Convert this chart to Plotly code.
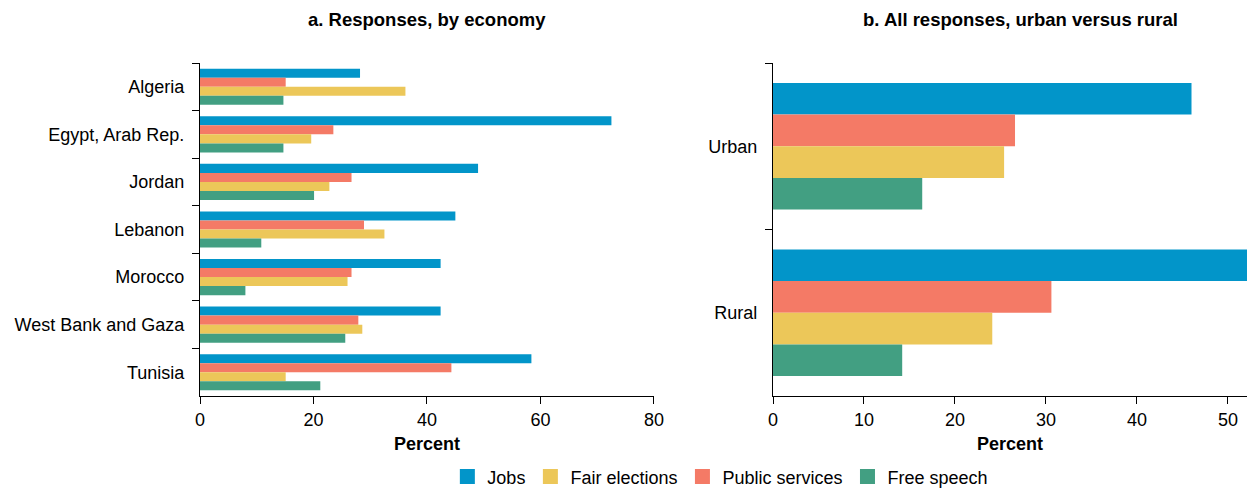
import plotly.graph_objects as go

economies = ["Algeria", "Egypt, Arab Rep.", "Jordan", "Lebanon", "Morocco", "West Bank and Gaza", "Tunisia"]
jobs = [28.2, 72.5, 49.0, 45.0, 42.4, 42.4, 58.4]
public_services = [15.1, 23.5, 26.7, 28.9, 26.7, 27.9, 44.3]
fair_elections = [36.2, 19.6, 22.8, 32.5, 26.0, 28.6, 15.1]
free_speech = [14.7, 14.7, 20.1, 10.8, 8.0, 25.6, 21.2]

areas = ["Urban", "Rural"]
area_jobs = [46.0, 52.6]
area_public = [26.6, 30.6]
area_fair = [25.4, 24.1]
area_free = [16.4, 14.2]

colors = {"Jobs": "#0295C9", "Fair elections": "#ECC759",
          "Public services": "#F47A66", "Free speech": "#429F82"}
legend_order = ["Jobs", "Fair elections", "Public services", "Free speech"]

fig = go.Figure()
series_a = [("Jobs", jobs), ("Public services", public_services),
            ("Fair elections", fair_elections), ("Free speech", free_speech)]
series_b = [("Jobs", area_jobs), ("Public services", area_public),
            ("Fair elections", area_fair), ("Free speech", area_free)]
for name, vals in series_a:
    fig.add_trace(go.Bar(y=economies, x=vals, orientation="h", name=name,
                         marker=dict(color=colors[name], line=dict(width=0)),
                         legendgroup=name, showlegend=False, xaxis="x", yaxis="y"))
for name, vals in series_b:
    fig.add_trace(go.Bar(y=areas, x=vals, orientation="h", name=name,
                         marker=dict(color=colors[name], line=dict(width=0)),
                         legendgroup=name, showlegend=False, xaxis="x2", yaxis="y2"))
# legend entries (square swatches)
for i, name in enumerate(legend_order):
    fig.add_trace(go.Scatter(x=[None], y=[None], mode="markers", name=name,
                             marker=dict(symbol="square", size=15, color=colors[name]),
                             legendgroup=name, legendrank=i + 1, xaxis="x3", yaxis="y3",
                             hoverinfo="skip"))

font = "Liberation Sans, Arial, sans-serif"
axis_common = dict(showline=True, linecolor="black", linewidth=1.2, ticks="outside",
                   ticklen=7, tickcolor="black", tickwidth=1.2, showgrid=False, zeroline=False,
                   tickfont=dict(size=18, color="black"))

fig.update_layout(
    width=1247, height=488,
    margin=dict(l=200, r=0, t=63, b=92, autoexpand=False),
    paper_bgcolor="white", plot_bgcolor="white",
    font=dict(family=font, size=18, color="black"),
    barmode="group", bargap=0.24, bargroupgap=0,
    xaxis=dict(domain=[0, 0.4336], range=[0, 80], dtick=20, anchor="y",
               title=dict(text="<b>Percent</b>", font=dict(size=18), standoff=8),
               **axis_common),
    yaxis=dict(domain=[0, 1], autorange="reversed", anchor="x",
               tickson="boundaries", ticklabelstandoff=11, **axis_common),
    xaxis2=dict(domain=[0.5473, 1], range=[0, 52.1], dtick=10, anchor="y2",
                title=dict(text="<b>Percent</b>", font=dict(size=18), standoff=8),
                **axis_common),
    yaxis2=dict(domain=[0, 1], autorange="reversed", anchor="x2",
                tickson="boundaries", ticklabelstandoff=11, **axis_common),
    xaxis3=dict(domain=[0, 0.01], visible=False, anchor="y3"),
    yaxis3=dict(domain=[0, 0.01], visible=False, anchor="x3"),
    legend=dict(orientation="h", x=0.497, xanchor="center", y=-0.243, yanchor="middle",
                font=dict(size=18), bgcolor="rgba(0,0,0,0)", itemwidth=30,
                tracegroupgap=0),
    annotations=[
        dict(text="<b>a. Responses, by economy</b>", xref="paper", yref="paper",
             x=0.4336 / 2, y=1.132, xanchor="center", yanchor="middle",
             showarrow=False, font=dict(size=18.5)),
        dict(text="<b>b. All responses, urban versus rural</b>", xref="paper", yref="paper",
             x=0.784, y=1.132, xanchor="center", yanchor="middle",
             showarrow=False, font=dict(size=18.5)),
    ],
)

fig.write_html("out.html")
